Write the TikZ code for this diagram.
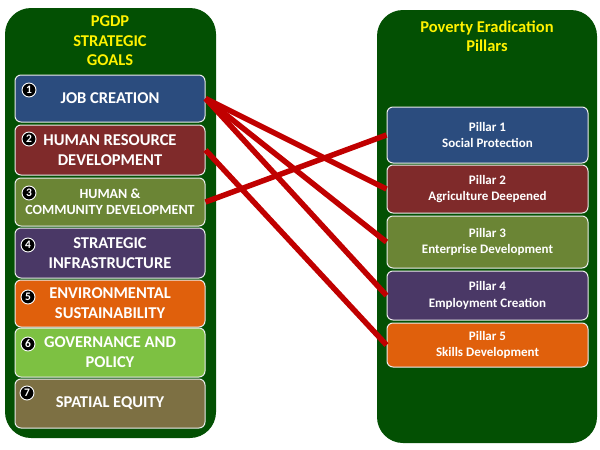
\documentclass[tikz,border=0pt]{standalone}
\usepackage{fontspec}
\setmainfont{Carlito}
\usetikzlibrary{positioning}

\definecolor{panelgreen}{HTML}{035003}
\definecolor{goalblue}{HTML}{2B4C7E}
\definecolor{goalred}{HTML}{7F2A2A}
\definecolor{goalolive}{HTML}{6B8535}
\definecolor{goalpurple}{HTML}{4A3866}
\definecolor{goalorange}{HTML}{E0600C}
\definecolor{goallime}{HTML}{7DC142}
\definecolor{goalkhaki}{HTML}{7D7043}
\definecolor{linkred}{HTML}{C00000}

\begin{document}
\begin{tikzpicture}[x=1pt, y=-1pt,
    goal/.style={draw=white!85!gray, line width=1pt, rounded corners=6pt, minimum width=190pt,
        text=white, align=center, inner sep=0pt, font=\bfseries\fontsize{16.5}{20}\selectfont},
    pillar/.style={goal, minimum width=201pt, font=\bfseries\fontsize{13}{16.5}\selectfont},
    num/.style={circle, fill=black, draw=white, line width=0.9pt, text=white, inner sep=0pt,
        minimum size=14pt, font=\bfseries\fontsize{11.5}{11.5}\selectfont},
    title/.style={text=yellow, align=center, font=\bfseries\fontsize{16.5}{19.5}\selectfont},
    link/.style={draw=linkred, line width=5.5pt}]
    \useasboundingbox (0,0) rectangle (600,450);

    % Panels
    \fill[panelgreen, rounded corners=26pt] (5,8) rectangle (216,438);
    \fill[panelgreen, rounded corners=26pt] (377,10) rectangle (597,443);

    % Titles
    \node[title] (goalstitle) at (110,41) {PGDP\\STRATEGIC\\GOALS};
    \node[title] (pillarstitle) at (487,36.5) {Poverty Eradication\\Pillars};

    % Strategic goals
    \node[goal, fill=goalblue, minimum height=47pt] (g1) at (110,98.5) {JOB CREATION};
    \node[goal, fill=goalred, minimum height=50pt] (g2) at (110,150) {HUMAN RESOURCE\\DEVELOPMENT};
    \node[goal, fill=goalolive, minimum height=48pt, font=\bfseries\fontsize{14}{16}\selectfont] (g3) at (110,202) {HUMAN \&\\COMMUNITY DEVELOPMENT};
    \node[goal, fill=goalpurple, minimum height=50pt] (g4) at (110,253) {STRATEGIC\\INFRASTRUCTURE};
    \node[goal, fill=goalorange, minimum height=47pt] (g5) at (110,303.5) {ENVIRONMENTAL\\SUSTAINABILITY};
    \node[goal, fill=goallime, minimum height=49pt] (g6) at (110,352.5) {GOVERNANCE AND\\POLICY};
    \node[goal, fill=goalkhaki, minimum height=49pt] (g7) at (110,403.5) {SPATIAL EQUITY};

    % Goal numbers
    \node[num] (n1) at (29,90) {1};
    \node[num] (n2) at (29,139) {2};
    \node[num] (n3) at (29,193) {3};
    \node[num] (n4) at (28,245) {4};
    \node[num] (n5) at (28,297) {5};
    \node[num] (n6) at (28,344) {6};
    \node[num] (n7) at (27,393) {7};

    % Pillars
    \node[pillar, fill=goalblue, minimum height=56pt] (p1) at (487.5,135) {Pillar 1\\Social Protection};
    \node[pillar, fill=goalred, minimum height=48pt] (p2) at (487.5,189) {Pillar 2\\Agriculture Deepened};
    \node[pillar, fill=goalolive, minimum height=52pt] (p3) at (487.5,242) {Pillar 3\\Enterprise Development};
    \node[pillar, fill=goalpurple, minimum height=49pt] (p4) at (487.5,295.5) {Pillar 4\\Employment Creation};
    \node[pillar, fill=goalorange, minimum height=44pt] (p5) at (487.5,345) {Pillar 5\\Skills Development};

    % Links
    \draw[link] (g1.east) -- (p2.west);
    \draw[link] (g1.east) -- (p3.west);
    \draw[link] (g1.east) -- (p4.west);
    \draw[link] (g2.east) -- (p5.west);
    \draw[link] (g3.east) -- (p1.west);
\end{tikzpicture}
\end{document}
